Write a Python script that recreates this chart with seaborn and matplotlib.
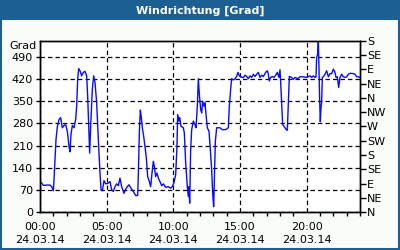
import matplotlib
matplotlib.use("Agg")
import matplotlib.pyplot as plt
import seaborn as sns
import pandas as pd
from matplotlib.patches import Rectangle
from matplotlib.ticker import MultipleLocator

# ---- data (hours since 00:00 on 24.03.14, wind direction in degrees) ----
hours = [0.1, 0.25, 0.5, 0.75, 0.875, 1.0, 1.05, 1.125, 1.2, 1.3, 1.425, 1.55, 1.675, 1.8,
         1.925, 2.05, 2.175, 2.25, 2.325, 2.425, 2.55, 2.675, 2.75, 2.825, 2.9, 3.0, 3.125,
         3.25, 3.375, 3.5, 3.575, 3.675, 3.725, 3.8, 3.925, 4.025, 4.125, 4.25, 4.375, 4.5,
         4.575, 4.675, 4.8, 4.925, 5.075, 5.25, 5.375, 5.5, 5.625, 5.75, 5.875, 6.0, 6.125,
         6.3, 6.425, 6.55, 6.675, 6.825, 7.0, 7.175, 7.325, 7.375, 7.45, 7.525, 7.6, 7.675,
         7.775, 7.875, 7.975, 8.075, 8.2, 8.3, 8.4, 8.5, 8.575, 8.675, 8.775, 8.875, 9.0,
         9.125, 9.25, 9.425, 9.625, 9.8, 9.925, 10.05, 10.175, 10.275, 10.325, 10.425,
         10.475, 10.575, 10.75, 10.825, 10.925, 11.05, 11.125, 11.175, 11.225, 11.3, 11.375,
         11.5, 11.625, 11.7, 11.8, 11.875, 11.95, 12.05, 12.125, 12.2, 12.3, 12.375, 12.45,
         12.55, 12.675, 12.775, 12.875, 12.95, 13.025, 13.1, 13.15, 13.25, 13.5, 13.675,
         13.925, 14.125, 14.2, 14.3, 14.375, 14.5, 14.625, 14.75, 14.85, 14.95, 15.075,
         15.25, 15.375, 15.5, 15.625, 15.75, 15.875, 16.0, 16.125, 16.25, 16.375, 16.5,
         16.625, 16.75, 16.925, 17.05, 17.125, 17.2, 17.3, 17.425, 17.55, 17.675, 17.8,
         17.925, 18.0, 18.075, 18.15, 18.2, 18.325, 18.475, 18.55, 18.625, 18.7, 18.875,
         19.0, 19.125, 19.325, 19.5, 19.75, 20.0, 20.25, 20.375, 20.5, 20.625, 20.7, 20.75,
         20.825, 20.875, 20.925, 20.975, 21.025, 21.075, 21.125, 21.175, 21.25, 21.375,
         21.5, 21.625, 21.75, 21.875, 22.0, 22.125, 22.2, 22.3, 22.4, 22.5, 22.625, 22.75,
         22.875, 23.0, 23.125, 23.25, 23.5, 23.625, 23.75, 23.875, 24.0]
direction = [93, 84, 85, 85, 80, 67, 102, 165, 229, 269, 292, 298, 266, 273,
             276, 255, 207, 190, 245, 273, 266, 292, 334, 419, 453, 446, 430,
             441, 444, 430, 366, 245, 186, 271, 388, 430, 409, 345, 229, 123,
             72, 67, 99, 89, 90, 96, 70, 65, 80, 89, 83, 107, 80,
             59, 72, 80, 86, 75, 65, 52, 52, 118, 250, 322, 298, 266,
             239, 207, 170, 112, 96, 80, 123, 160, 144, 112, 123, 107, 96,
             83, 89, 78, 80, 75, 80, 93, 118, 207, 308, 287,
             298, 271, 266, 250, 155, 80, 49, 80, 28, 197, 260,
             287, 276, 266, 334, 421, 372, 324, 313, 350, 334, 345, 308,
             266, 255, 197, 133, 59, 17, 144, 223, 266, 266, 260,
             260, 266, 334, 388, 421, 417, 421, 428, 441, 430, 427,
             424, 432, 428, 421, 430, 425, 435, 428, 435, 441, 425,
             432, 428, 441, 446, 435, 414, 425, 428, 425, 432, 441,
             425, 449, 388, 319, 276, 269, 260, 258, 340, 428, 425,
             419, 425, 421, 427, 427, 425, 430, 425, 430, 425, 427, 488,
             499, 540, 456, 350, 285, 329, 350, 425, 427, 435,
             446, 427, 437, 437, 451, 441, 425, 427, 393, 425, 435, 427,
             425, 427, 435, 438, 437, 435, 427, 427, 425]

x_major = [0, 5, 10, 15, 20]
x_labels = ["00:00\n24.03.14", "05:00\n24.03.14", "10:00\n24.03.14",
            "15:00\n24.03.14", "20:00\n24.03.14"]
y_left_ticks = [0, 70, 140, 210, 280, 350, 420, 490]
y_right_ticks = [0, 45, 90, 135, 180, 225, 270, 315, 360, 405, 450, 495, 540]
y_right_labels = ["N", "NE", "E", "SE", "S", "SW", "W", "NW", "N", "NE", "E", "SE", "S"]
title = "Windrichtung [Grad]"
unit = "Grad"

df = pd.DataFrame({"h": hours, "deg": direction})

sns.set_style("white")
plt.rcParams["font.family"] = ["DejaVu Sans"]

BLUE = "#1c5f93"
fig = plt.figure(figsize=(4, 2.5), dpi=100, facecolor="#fafcfa")
ax = fig.add_axes([0.1, 0.152, 0.8, 0.684])
ax.set_facecolor("white")

sns.lineplot(data=df, x="h", y="deg", ax=ax, color="#0a0aff", lw=1,
             estimator=None, sort=False)

ax.set_xlim(0, 24)
ax.set_ylim(0, 540)
ax.set_xlabel("")
ax.set_ylabel("")

ax.set_xticks(x_major)
ax.set_xticklabels(x_labels, fontsize=8, linespacing=1.45)
ax.xaxis.set_minor_locator(MultipleLocator(1))
ax.set_yticks(y_left_ticks)
ax.set_yticklabels([str(v) for v in y_left_ticks], fontsize=8)

ax.tick_params(axis="x", which="major", direction="out", length=4, width=1,
               color="black", pad=3, labelcolor="black")
ax.tick_params(axis="x", which="minor", direction="out", length=3, width=1,
               color="black", bottom=True)
ax.tick_params(axis="y", which="major", direction="out", length=3, width=1,
               color="black", pad=2, labelcolor="black", left=True)

ax.grid(True, which="major", color="black", linestyle=(0, (3.5, 2.5)), lw=0.9)
for s in ax.spines.values():
    s.set_color("black")
    s.set_linewidth(1)

ax2 = ax.twinx()
ax2.set_ylim(0, 540)
ax2.set_yticks(y_right_ticks)
ax2.set_yticklabels(y_right_labels, fontsize=8)
ax2.tick_params(axis="y", direction="out", length=4, width=1, color="black",
                pad=1, right=True, labelcolor="black")
ax2.grid(False)
for s in ax2.spines.values():
    s.set_color("black")
    s.set_linewidth(1)

ax.text(-0.012, 1.0, unit, transform=ax.transAxes, ha="right", va="top",
        fontsize=8, color="black")

# title bar and frame
fig.patches.append(Rectangle((0, 230 / 250), 1, 20 / 250, transform=fig.transFigure,
                             facecolor=BLUE, edgecolor="none", zorder=0))
fig.patches.append(Rectangle((0.002, 0.004), 0.996, 0.994, transform=fig.transFigure,
                             facecolor="none", edgecolor=BLUE, lw=1.5, zorder=5))
fig.text(0.5, 1 - 10.5 / 250, title, ha="center", va="center", color="white",
         fontsize=8, fontweight="bold")

fig.savefig("out.png", dpi=100, facecolor=fig.get_facecolor())
